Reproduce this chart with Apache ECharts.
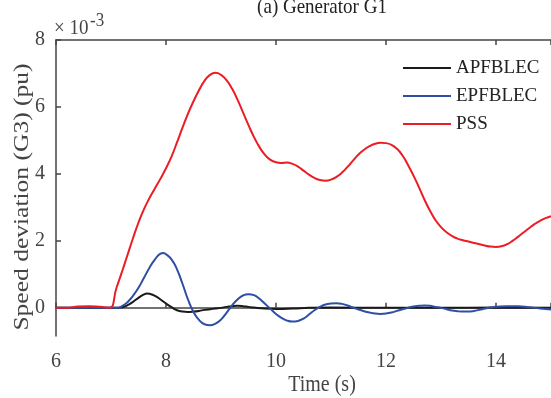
<!DOCTYPE html>
<html>
<head>
<meta charset="utf-8">
<script src="https://cdn.jsdelivr.net/npm/echarts@6/dist/echarts.min.js"></script>
<style>
  html, body { margin: 0; padding: 0; background: #fff; }
  #chart { width: 551px; height: 398px; }
</style>
</head>
<body>
<div id="chart"></div>
<script>
// values in units of 1e-3 pu
const xTicks = [6, 8, 10, 12, 14];
const yTicks = [0, 2, 4, 6, 8];

const apfTime = [6.0, 7.1, 7.2, 7.3, 7.4, 7.5, 7.6, 7.65, 7.7, 7.8, 7.9, 8.0, 8.1, 8.2, 8.3, 8.4, 8.5, 8.6, 8.7, 8.8, 8.9, 9.0, 9.1, 9.2, 9.3, 9.4, 9.5, 9.6, 9.8, 10.0, 10.3, 10.6, 11.0, 12.0, 13.0, 14.0, 15.0];
const apfVal = [0, 0, 0.02, 0.08, 0.18, 0.3, 0.4, 0.43, 0.42, 0.36, 0.25, 0.13, 0.02, -0.07, -0.11, -0.12, -0.11, -0.09, -0.06, -0.04, -0.02, 0.0, 0.03, 0.05, 0.06, 0.05, 0.03, 0.01, -0.02, -0.03, -0.02, 0.0, 0.01, 0.0, 0.0, 0.01, 0.0];

const epfTime = [6.0, 7.1, 7.2, 7.3, 7.4, 7.5, 7.6, 7.7, 7.8, 7.9, 7.95, 8.0, 8.1, 8.2, 8.3, 8.4, 8.5, 8.6, 8.7, 8.8, 8.9, 9.0, 9.1, 9.2, 9.3, 9.4, 9.5, 9.6, 9.7, 9.8, 9.9, 10.0, 10.1, 10.2, 10.3, 10.4, 10.5, 10.6, 10.7, 10.8, 10.9, 11.0, 11.1, 11.2, 11.3, 11.4, 11.5, 11.6, 11.7, 11.8, 11.9, 12.0, 12.1, 12.2, 12.3, 12.4, 12.5, 12.6, 12.7, 12.8, 12.9, 13.0, 13.1, 13.2, 13.3, 13.4, 13.5, 13.6, 13.7, 13.8, 13.9, 14.0, 14.2, 14.4, 14.6, 14.8, 15.0];
const epfVal = [0, 0, 0.05, 0.17, 0.36, 0.6, 0.9, 1.2, 1.45, 1.62, 1.64, 1.6, 1.45, 1.15, 0.72, 0.25, -0.12, -0.36, -0.49, -0.52, -0.47, -0.35, -0.15, 0.07, 0.25, 0.37, 0.41, 0.38, 0.27, 0.12, -0.03, -0.18, -0.3, -0.38, -0.41, -0.39, -0.32, -0.2, -0.07, 0.03, 0.1, 0.13, 0.14, 0.12, 0.07, 0.01, -0.05, -0.1, -0.14, -0.17, -0.18, -0.17, -0.14, -0.09, -0.04, 0.0, 0.04, 0.06, 0.07, 0.06, 0.03, 0.0, -0.04, -0.08, -0.1, -0.11, -0.11, -0.09, -0.06, -0.02, 0.01, 0.03, 0.05, 0.05, 0.02, -0.02, -0.05];

const pssTime = [6.0, 6.2, 6.4, 6.6, 6.8, 6.97, 7.1, 7.2, 7.3, 7.4, 7.5, 7.6, 7.7, 7.8, 7.9, 8.0, 8.1, 8.2, 8.3, 8.4, 8.5, 8.6, 8.7, 8.8, 8.9, 9.0, 9.1, 9.2, 9.3, 9.4, 9.5, 9.6, 9.7, 9.8, 9.9, 10.0, 10.1, 10.2, 10.3, 10.4, 10.5, 10.6, 10.7, 10.8, 10.9, 11.0, 11.1, 11.2, 11.3, 11.4, 11.5, 11.6, 11.7, 11.8, 11.9, 12.0, 12.1, 12.2, 12.3, 12.4, 12.5, 12.6, 12.7, 12.8, 12.9, 13.0, 13.1, 13.2, 13.3, 13.4, 13.5, 13.6, 13.7, 13.8, 13.9, 14.0, 14.1, 14.2, 14.3, 14.4, 14.5, 14.6, 14.7, 14.8, 14.9, 15.0];
const pssVal = [0, 0, 0.04, 0.05, 0.03, 0, 0.6, 1.08, 1.58, 2.08, 2.55, 2.95, 3.28, 3.57, 3.86, 4.17, 4.52, 4.94, 5.38, 5.8, 6.17, 6.5, 6.78, 6.96, 7.02, 6.96, 6.8, 6.55, 6.22, 5.84, 5.46, 5.1, 4.8, 4.57, 4.42, 4.35, 4.33, 4.34, 4.3, 4.22, 4.1, 3.98, 3.88, 3.82, 3.8, 3.83, 3.91, 4.04, 4.21, 4.4, 4.58, 4.72, 4.83, 4.9, 4.93, 4.92, 4.87, 4.75, 4.55, 4.27, 3.95, 3.6, 3.23, 2.9, 2.62, 2.41, 2.26, 2.15, 2.07, 2.02, 1.98, 1.94, 1.9, 1.86, 1.83, 1.82, 1.84, 1.9, 2.0, 2.12, 2.25, 2.38, 2.5, 2.6, 2.68, 2.74];

function pairs(t, v) {
  return t.map((x, i) => [x, v[i]]);
}

const font = "'Liberation Serif', 'Times New Roman', serif";
const axisColor = "#444";

const chart = echarts.init(document.getElementById("chart"));

function lineSeries(name, t, v, color) {
  return {
    name: name,
    type: "line",
    data: pairs(t, v),
    symbol: "none",
    smooth: 0.5,
    lineStyle: { color: color, width: 2 },
    itemStyle: { color: color },
    silent: true,
  };
}

const option = {
  animation: false,
  backgroundColor: "#fff",
  grid: {
    left: 56,
    top: 40,
    right: 0,
    bottom: 62,
  },
  legend: {
    orient: "vertical",
    left: 403,
    top: 58,
    padding: 0,
    icon: "rect",
    itemWidth: 48,
    itemHeight: 2,
    itemGap: 8,
    textStyle: {
      fontFamily: font,
      fontSize: 19,
      lineHeight: 20,
      color: "#222",
    },
    data: ["APFBLEC", "EPFBLEC", "PSS"],
  },
  xAxis: [
    {
      type: "value",
      min: 6,
      max: 15,
      interval: 2,
      axisLine: { show: true, lineStyle: { color: axisColor, width: 1.5 } },
      axisTick: { show: true, inside: true, length: 5, lineStyle: { color: axisColor, width: 1.5 } },
      axisLabel: {
        show: true,
        margin: 16,
        fontFamily: font,
        fontSize: 20,
        color: "#444",
        customValues: xTicks,
      },
      splitLine: { show: false },
    },
    {
      type: "value",
      position: "top",
      min: 6,
      max: 15,
      interval: 2,
      axisLine: { show: true, lineStyle: { color: axisColor, width: 1.5 } },
      axisTick: { show: true, inside: true, length: 5, lineStyle: { color: axisColor, width: 1.5 } },
      axisLabel: { show: false },
      splitLine: { show: false },
    },
  ],
  yAxis: {
    type: "value",
    min: -0.84,
    max: 8,
    axisLine: { show: true, lineStyle: { color: axisColor, width: 1.5 } },
    axisTick: {
      show: true,
      inside: true,
      length: 5,
      customValues: yTicks,
      lineStyle: { color: axisColor, width: 1.5 },
    },
    axisLabel: {
      show: true,
      margin: 11,
      fontFamily: font,
      fontSize: 20,
      color: "#444",
      customValues: yTicks,
    },
    splitLine: { show: false },
  },
  graphic: [
    {
      type: "text",
      x: 322,
      y: 7,
      scaleY: 1.12,
      style: {
        text: "(a) Generator G1",
        fontFamily: font,
        fontSize: 19,
        fill: "#222",
        textAlign: "center",
        textVerticalAlign: "middle",
      },
    },
    {
      type: "text",
      x: 54,
      y: 28,
      scaleY: 1.12,
      style: {
        text: "\u00d7 10",
        fontFamily: font,
        fontSize: 19,
        fill: "#444",
        textAlign: "left",
        textVerticalAlign: "middle",
      },
    },
    {
      type: "text",
      x: 90,
      y: 21,
      scaleY: 1.12,
      style: {
        text: "-3",
        fontFamily: font,
        fontSize: 17,
        fill: "#444",
        textAlign: "left",
        textVerticalAlign: "middle",
      },
    },
    {
      type: "text",
      x: 322,
      y: 385,
      scaleY: 1.12,
      style: {
        text: "Time (s)",
        fontFamily: font,
        fontSize: 20,
        fill: "#444",
        textAlign: "center",
        textVerticalAlign: "middle",
      },
    },
    {
      type: "text",
      x: 22,
      y: 197,
      rotation: Math.PI / 2,
      scaleX: 1.16,
      style: {
        text: "Speed deviation (G3) (pu)",
        fontFamily: font,
        fontSize: 22,
        fill: "#444",
        textAlign: "center",
        textVerticalAlign: "middle",
      },
    },
  ],
  series: [
    lineSeries("APFBLEC", apfTime, apfVal, "#1a1a1a"),
    lineSeries("EPFBLEC", epfTime, epfVal, "#2e4fa3"),
    lineSeries("PSS", pssTime, pssVal, "#ec1c24"),
  ],
};

chart.setOption(option);
</script>
</body>
</html>
